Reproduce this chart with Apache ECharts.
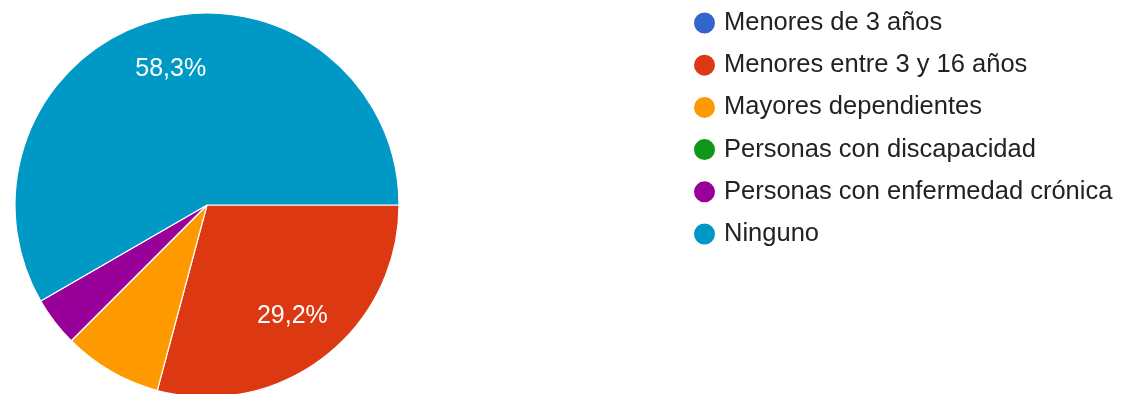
<!DOCTYPE html>
<html>
<head>
<meta charset="utf-8">
<script src="https://cdn.jsdelivr.net/npm/echarts@6/dist/echarts.min.js"></script>
<style>
  html, body { margin: 0; padding: 0; background: #ffffff; }
  #chart { width: 1123px; height: 394px; }
</style>
</head>
<body>
<div id="chart"></div>
<script>
// Respuestas: personas a cargo en el hogar
const categories = [
  'Menores de 3 años',
  'Menores entre 3 y 16 años',
  'Mayores dependientes',
  'Personas con discapacidad',
  'Personas con enfermedad crónica',
  'Ninguno'
];
const counts = [0, 7, 2, 0, 1, 14];
const colors = ['#3366cc', '#dc3912', '#ff9900', '#109618', '#990099', '#0099c6'];

const total = counts.reduce((a, b) => a + b, 0);
const pct = v => (v / total * 100).toFixed(1).replace('.', ',') + '%';

const pieData = categories.map((name, i) => ({
  name,
  value: counts[i],
  itemStyle: { color: colors[i] }
}));

const FONT = '"Liberation Sans", Arial, sans-serif';
const CENTER = [207, 205];
const R = 192;

const chart = echarts.init(document.getElementById('chart'), null, { renderer: 'canvas' });
chart.setOption({
  animation: false,
  backgroundColor: '#ffffff',
  legend: {
    orient: 'vertical',
    left: 687,
    top: 5,
    icon: 'circle',
    itemWidth: 23,
    itemHeight: 23,
    itemGap: 16.2,
    selectedMode: false,
    data: categories,
    textStyle: {
      fontFamily: FONT,
      fontSize: 25.5,
      lineHeight: 24,
      color: '#222222',
      padding: [0, 0, 0, 3]
    }
  },
  series: [
    {
      type: 'pie',
      center: CENTER,
      radius: [0, R],
      startAngle: 0,
      clockwise: true,
      minAngle: 0,
      avoidLabelOverlap: false,
      silent: true,
      data: pieData,
      itemStyle: { borderColor: '#ffffff', borderWidth: 1.2 },
      label: { show: false },
      labelLine: { show: false }
    },
    {
      // label ring: places the percentage text toward the outer part of each slice
      type: 'pie',
      center: CENTER,
      radius: [R * 0.43, R],
      startAngle: 0,
      clockwise: true,
      minAngle: 0,
      avoidLabelOverlap: false,
      silent: true,
      legendHoverLink: false,
      data: pieData.map(d => ({ name: d.name, value: d.value })),
      itemStyle: { color: 'rgba(0,0,0,0)', borderWidth: 0 },
      label: {
        show: true,
        position: 'inside',
        fontFamily: FONT,
        fontSize: 25,
        color: '#ffffff',
        formatter: p => (p.value / total >= 0.1 ? pct(p.value) : '')
      },
      labelLine: { show: false }
    }
  ]
});
</script>
</body>
</html>
